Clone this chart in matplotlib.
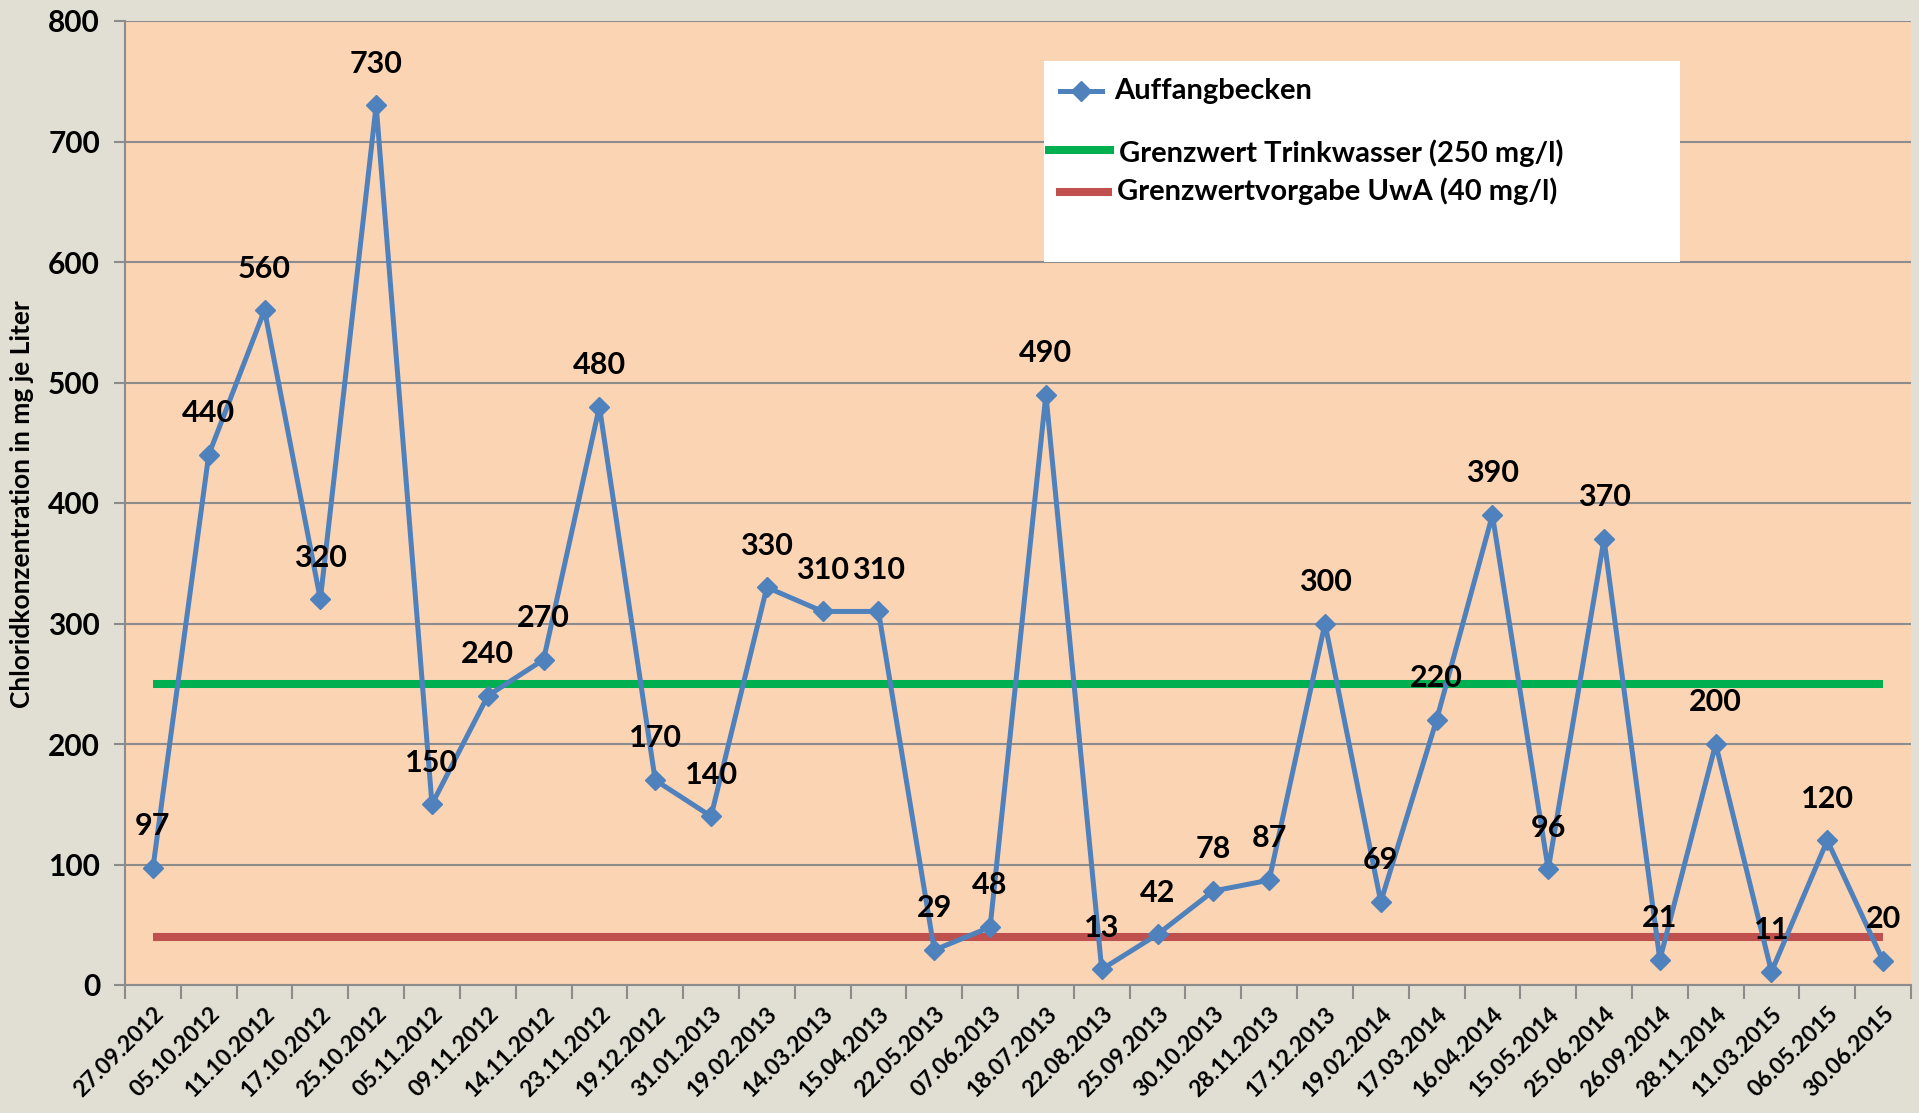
import matplotlib.pyplot as plt
from matplotlib.lines import Line2D
from matplotlib.patches import Rectangle

plt.rcParams['font.family'] = ['Lato', 'DejaVu Sans']
plt.rcParams['font.weight'] = 'bold'

dates = ['27.09.2012', '05.10.2012', '11.10.2012', '17.10.2012', '25.10.2012',
         '05.11.2012', '09.11.2012', '14.11.2012', '23.11.2012', '19.12.2012',
         '31.01.2013', '19.02.2013', '14.03.2013', '15.04.2013', '22.05.2013',
         '07.06.2013', '18.07.2013', '22.08.2013', '25.09.2013', '30.10.2013',
         '28.11.2013', '17.12.2013', '19.02.2014', '17.03.2014', '16.04.2014',
         '15.05.2014', '25.06.2014', '26.09.2014', '28.11.2014', '11.03.2015',
         '06.05.2015', '30.06.2015']
chlorid = [97, 440, 560, 320, 730, 150, 240, 270, 480, 170, 140, 330, 310, 310,
           29, 48, 490, 13, 42, 78, 87, 300, 69, 220, 390, 96, 370, 21, 200, 11,
           120, 20]
grenzwert_trinkwasser = 250
grenzwert_uwa = 40
series_name = 'Auffangbecken'
green_name = 'Grenzwert Trinkwasser (250 mg/l)'
red_name = 'Grenzwertvorgabe UwA (40 mg/l)'

W, H = 1919, 1113
blue = '#4F81BD'
green = '#00B050'
red = '#C0504D'
grid_c = '#8C8C8C'

fig = plt.figure(figsize=(W / 100, H / 100), dpi=100, facecolor='#E1DFD4')


def fx(px):
    return px / W


def fy(py):
    return 1 - py / H


ax = fig.add_axes([fx(125), fy(985), fx(1911) - fx(125), fy(21) - fy(985)],
                  facecolor='#FBD4B4')

x = list(range(len(dates)))
ax.plot([x[0], x[-1]], [grenzwert_trinkwasser] * 2, color=green, lw=5.8,
        solid_capstyle='butt', zorder=2)
ax.plot([x[0], x[-1]], [grenzwert_uwa] * 2, color=red, lw=5.8,
        solid_capstyle='butt', zorder=2)
ax.plot(x, chlorid, color=blue, lw=3.6, marker='D', markersize=10,
        markerfacecolor=blue, markeredgecolor=blue, zorder=3)

for i, v in zip(x, chlorid):
    ax.annotate(str(v), (i, v), xytext=(0, 30), textcoords='offset points',
                ha='center', va='center', fontsize=22, fontweight='bold',
                color='black', zorder=4)

ax.set_xlim(-0.5, len(dates) - 0.5)
ax.set_ylim(0, 800)
ax.set_yticks(range(0, 801, 100))
ax.yaxis.grid(True, color=grid_c, lw=1.5)
ax.set_axisbelow(True)
ax.tick_params(axis='y', length=8, width=1.5, color=grid_c, labelsize=21.5, pad=10)
for t in ax.get_yticklabels():
    t.set_fontweight('bold')

ax.set_xticks(x)
ax.set_xticklabels(dates, rotation=45, ha='right', rotation_mode='anchor',
                   fontsize=16.5, fontweight='bold')
ax.tick_params(axis='x', length=0, pad=13)
ax.set_xticks([i - 0.5 for i in range(len(dates) + 1)], minor=True)
ax.tick_params(axis='x', which='minor', length=10, width=1.5, color=grid_c)

for s in ['top', 'right']:
    ax.spines[s].set_visible(False)
for s in ['left', 'bottom']:
    ax.spines[s].set_color(grid_c)
    ax.spines[s].set_linewidth(1.5)

fig.text(fx(22), fy(504), 'Chloridkonzentration in mg je Liter', rotation=90,
         ha='center', va='center', fontsize=19, fontweight='bold')

# legend drawn by hand to match the uneven spacing
fig.patches.append(Rectangle((fx(1044), fy(262)), fx(1680) - fx(1044),
                             fy(61) - fy(262), transform=fig.transFigure,
                             facecolor='white', edgecolor='none', zorder=5))
fig.lines.append(Line2D([fx(1060), fx(1102)], [fy(91), fy(91)], color=blue,
                        lw=3.6, transform=fig.transFigure, zorder=6))
fig.lines.append(Line2D([fx(1081)], [fy(91)], color=blue, marker='D',
                        markersize=10, transform=fig.transFigure, zorder=6))
fig.text(fx(1114), fy(91), series_name, ha='left', va='center', fontsize=21,
         fontweight='bold', zorder=6)
fig.lines.append(Line2D([fx(1049), fx(1110)], [fy(150), fy(150)], color=green,
                        lw=5.8, transform=fig.transFigure, zorder=6))
fig.text(fx(1119), fy(153), green_name, ha='left', va='center', fontsize=21,
         fontweight='bold', zorder=6)
fig.lines.append(Line2D([fx(1060), fx(1108)], [fy(192), fy(192)], color=red,
                        lw=5.8, transform=fig.transFigure, zorder=6))
fig.text(fx(1117), fy(191), red_name, ha='left', va='center', fontsize=21,
         fontweight='bold', zorder=6)

fig.savefig('out.png', dpi=100, facecolor=fig.get_facecolor())
